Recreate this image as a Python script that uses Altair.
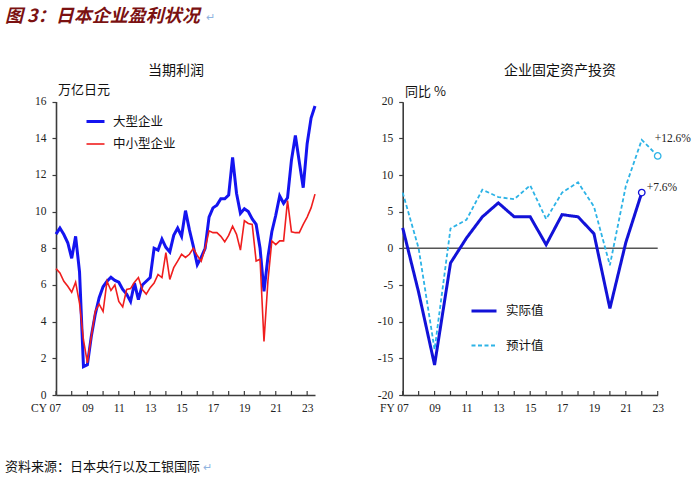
import json
import altair as alt
import pandas as pd

W, H = 700, 481

# ---------------- data ----------------
left_series = ["大型企业", "中小型企业"]
# quarterly, 2007Q1 .. 2023Q3 (万亿日元)
large_corp = [8.77, 9.1, 8.75, 8.3, 7.45, 8.65, 6.7, 1.55, 1.65, 3.2,
              4.4, 5.3, 5.9, 6.2, 6.42, 6.25, 6.15, 5.75, 5.5, 5.1,
              6.1, 5.2, 6.0, 6.2, 6.4, 8.0, 7.9, 8.5, 8.05, 7.8,
              8.7, 9.1, 8.65, 10.05, 9.0, 8.1, 7.1, 7.5, 8.0, 9.7,
              10.2, 10.35, 10.7, 10.7, 10.9, 12.95, 11.0, 9.9, 10.15, 10.0,
              9.6, 9.3, 8.0, 5.65, 7.5, 8.9, 9.8, 10.85, 10.45, 10.75,
              12.8, 14.15, 12.7, 11.3, 13.7, 15.1, 15.75]
small_corp = [6.89, 6.66, 6.2, 5.93, 5.6, 6.15, 5.0, 3.0, 1.75, 3.2,
              4.56, 4.95, 4.55, 6.2, 5.7, 6.0, 5.1, 4.8, 5.75, 5.8,
              6.15, 6.4, 5.75, 5.5, 5.85, 6.1, 6.57, 6.4, 7.76, 6.3,
              6.94, 7.3, 7.67, 7.5, 7.67, 8.0, 7.6, 7.3, 8.0, 8.95,
              8.85, 8.85, 8.65, 8.35, 8.7, 9.2, 8.76, 7.9, 9.5, 9.35,
              9.3, 7.3, 7.4, 2.92, 6.2, 8.4, 8.2, 8.4, 8.4, 10.6,
              8.9, 8.85, 8.85, 9.3, 9.7, 10.2, 10.95]
left_quarters = [2007 + i / 4 for i in range(len(large_corp))]

right_series = ["实际值", "预计值"]
actual_years = list(range(2007, 2023))
actual = [2.8, -6.0, -15.9, -2.0, 1.4, 4.3, 6.2, 4.3, 4.3, 0.5,
          4.6, 4.3, 2.0, -8.2, 0.8, 7.6]
forecast_years = list(range(2007, 2024))
forecast = [7.6, 0.0, -13.8, 2.7, 3.9, 8.0, 7.0, 6.7, 8.6, 4.0,
            7.6, 9.0, 5.7, -2.3, 8.5, 14.8, 12.6]

year_ticks = list(range(2007, 2024))
label_years = [2007, 2009, 2011, 2013, 2015, 2017, 2019, 2021, 2023]
left_labels = ["CY 07", "09", "11", "13", "15", "17", "19", "21", "23"]
right_labels = ["FY 07", "09", "11", "13", "15", "17", "19", "21", "23"]
left_y_ticks = [0, 2, 4, 6, 8, 10, 12, 14, 16]
right_y_ticks = [-20, -15, -10, -5, 0, 5, 10, 15, 20]

# ---------------- styling ----------------
AX = "#3c3c3c"
SERIF = "Liberation Serif"
CJK = "Noto Sans CJK SC"
BLUE = "#1414F0"
RED = "#F01E1E"
BLUE2 = "#1212D8"
CYAN = "#2DB3E6"

left_df = pd.DataFrame({
    "t": left_quarters * 2,
    "value": large_corp + small_corp,
    "series": [left_series[0]] * len(large_corp) + [left_series[1]] * len(small_corp),
})
right_df = pd.DataFrame({
    "year": actual_years + forecast_years,
    "value": actual + forecast,
    "kind": [right_series[0]] * len(actual) + [right_series[1]] * len(forecast),
})


def xL():
    return alt.Scale(domain=[2007, 2023.5], range=[56, 315], nice=False, zero=False)


def yL():
    return alt.Scale(domain=[0, 16], range=[395, 101.5], nice=False, zero=False)


def xR():
    return alt.Scale(domain=[2007, 2023], range=[402.7, 657.7], nice=False, zero=False)


def yR():
    return alt.Scale(domain=[-20, 20], range=[395, 101.7], nice=False, zero=False)


def x_axis(labels, first_offset):
    mapping = {str(y): l for y, l in zip(label_years, labels)}
    expr = "(" + json.dumps(mapping, ensure_ascii=False) + ")[datum.value] || ''"
    return alt.Axis(
        orient="bottom", offset=-(H - 395), values=year_ticks, labelExpr=expr,
        ticks=False, grid=False, domainColor=AX, domainWidth=1.6,
        labelFont=SERIF, labelFontSize=11.5, labelColor="#222", labelPadding=7,
        labelOffset={"condition": {"test": "datum.value == 2007", "value": first_offset}, "value": 0},
        labelOverlap=False, labelFlush=False, labelBound=False, title=None,
    )


def y_axis(values, offset):
    return alt.Axis(
        orient="left", offset=offset, values=values, grid=False,
        domainColor=AX, domainWidth=1.6, tickColor=AX, tickWidth=1.2, tickSize=4,
        labelFont=SERIF, labelFontSize=11.5, labelColor="#222", labelPadding=6,
        labelExpr="'' + datum.value",
        labelOverlap=False, labelFlush=False, labelBound=False, title=None,
    )


def legend(x, y, size, offset, rowpad):
    return alt.Legend(
        orient="none", legendX=x, legendY=y, title=None, symbolType="stroke",
        symbolSize=size, labelOffset=offset, rowPadding=rowpad, labelFont=CJK,
        labelFontSize=12.5, labelColor="#111", padding=0,
    )


# ---------------- left panel ----------------
legL = legend(85, 111, 324, 7, 6)
left_ticks = alt.Chart(pd.DataFrame({"yr": year_ticks})).mark_rule(color=AX, strokeWidth=1.2).encode(
    x=alt.X("yr:Q", scale=xL(), axis=None),
    y=alt.Y(datum=0, scale=yL(), axis=None),
    y2=alt.Y2(datum=0.22),
)
left_lines = alt.Chart(left_df).mark_line().encode(
    x=alt.X("t:Q", scale=xL(), axis=x_axis(left_labels, -10.5)),
    y=alt.Y("value:Q", scale=yL(), axis=y_axis(left_y_ticks, -56)),
    color=alt.Color("series:N", scale=alt.Scale(domain=left_series, range=[BLUE, RED]), legend=legL),
    strokeWidth=alt.StrokeWidth("series:N", scale=alt.Scale(domain=left_series, range=[3.0, 1.6]), legend=legL),
)

# ---------------- right panel ----------------
legR = legend(470, 297, 625, 8, 14)
zero_line = alt.Chart(pd.DataFrame({"z": [0]})).mark_rule(color="#555555", strokeWidth=1.5).encode(
    x=alt.X(datum=2007, scale=xR(), axis=None),
    x2=alt.X2(datum=2023),
    y=alt.Y("z:Q", scale=yR(), axis=None),
)
right_ticks = alt.Chart(pd.DataFrame({"yr": year_ticks})).mark_rule(color=AX, strokeWidth=1.2).encode(
    x=alt.X("yr:Q", scale=xR(), axis=None),
    y=alt.Y(datum=-20, scale=yR(), axis=None),
    y2=alt.Y2(datum=-19.45),
)
right_lines = alt.Chart(right_df).mark_line().encode(
    x=alt.X("year:Q", scale=xR(), axis=x_axis(right_labels, -8.8)),
    y=alt.Y("value:Q", scale=yR(), axis=y_axis(right_y_ticks, -402.7)),
    color=alt.Color("kind:N", scale=alt.Scale(domain=right_series, range=[BLUE2, CYAN]), legend=legR),
    strokeWidth=alt.StrokeWidth("kind:N", scale=alt.Scale(domain=right_series, range=[3.0, 1.8]), legend=legR),
    strokeDash=alt.StrokeDash("kind:N", scale=alt.Scale(domain=right_series, range=[[1, 0], [4, 2.5]]), legend=legR),
)
end_df = pd.DataFrame({
    "year": [actual_years[-1], forecast_years[-1]],
    "value": [actual[-1], forecast[-1]],
    "col": [BLUE2, CYAN],
    "lab": [f"+{actual[-1]}%", f"+{forecast[-1]}%"],
})
end_points = alt.Chart(end_df).mark_point(shape="circle", size=42, strokeWidth=1.3, filled=True, fill="white", opacity=1).encode(
    x=alt.X("year:Q", scale=xR(), axis=None),
    y=alt.Y("value:Q", scale=yR(), axis=None),
    stroke=alt.Stroke("col:N", scale=None),
)
ann_actual = alt.Chart(end_df.iloc[[0]]).mark_text(
    align="left", baseline="middle", dx=5, dy=-5, font=SERIF, fontSize=11.5, color="#222"
).encode(x=alt.X("year:Q", scale=xR(), axis=None), y=alt.Y("value:Q", scale=yR(), axis=None), text="lab:N")
ann_fore = alt.Chart(end_df.iloc[[1]]).mark_text(
    align="left", baseline="middle", dx=-3, dy=-16.5, font=SERIF, fontSize=11.5, color="#222"
).encode(x=alt.X("year:Q", scale=xR(), axis=None), y=alt.Y("value:Q", scale=yR(), axis=None), text="lab:N")


# ---------------- texts ----------------
def label(text, x, y, size, font=CJK, align="left", color="#111", weight="normal", style="normal"):
    return alt.Chart(pd.DataFrame({"txt": [text]})).mark_text(
        align=align, baseline="middle", font=font, fontSize=size, color=color,
        fontWeight=weight, fontStyle=style,
    ).encode(x=alt.value(x), y=alt.value(y), text="txt:N")


texts = [
    label("图 3：日本企业盈利状况", 5, 16.5, 18, color="#7B1111", weight="bold", style="italic"),
    label("↵", 206, 18, 11, color="#8FB4E0"),
    label("当期利润", 176, 71, 14, align="center"),
    label("万亿日元", 58, 90, 13),
    label("企业固定资产投资", 560, 71, 14, align="center"),
    label("同比 %", 405, 92, 13),
    label("资料来源：日本央行以及工银国际", 5, 467, 13),
    label("↵", 203, 468, 11, color="#8FB4E0"),
]

chart = alt.layer(
    left_ticks, left_lines,
    zero_line, right_ticks, right_lines, end_points, ann_actual, ann_fore,
    *texts,
).resolve_scale(
    x="independent", y="independent", color="independent",
    strokeWidth="independent", strokeDash="independent",
).properties(
    width=W, height=H, autosize=alt.AutoSizeParams(type="none"), padding=0,
    background="white",
).configure_view(stroke=None)

chart.save("out.html", embed_options={"renderer": "svg", "actions": False})
